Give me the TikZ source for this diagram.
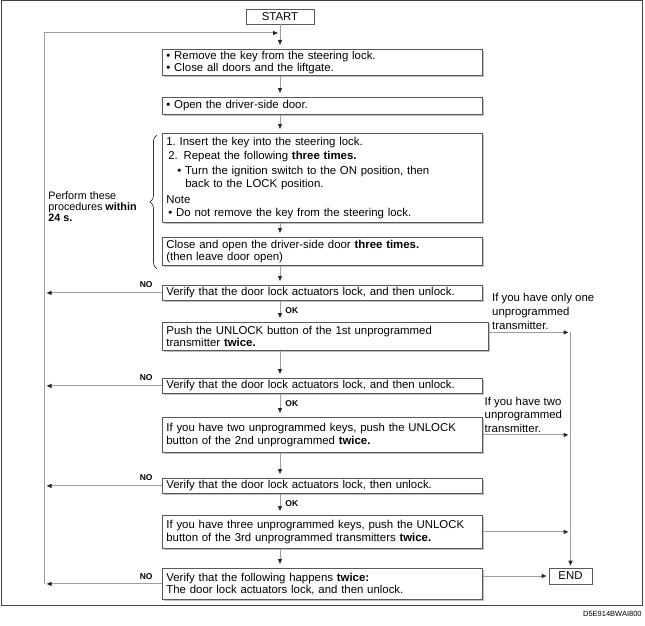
\documentclass[tikz,border=0pt]{standalone}
\usepackage{fontspec}
\setmainfont{Liberation Sans}
\usetikzlibrary{arrows.meta,shadows,decorations.pathreplacing}

\begin{document}
\begin{tikzpicture}[x=1pt,y=-1pt,line width=0.8pt,
  >={Triangle[length=5pt,width=4pt,color=black!85]},
  box/.style={draw=black!65, fill=white, anchor=north west, text width=312pt,
    inner xsep=4pt, inner ysep=1pt, align=left,
    drop shadow={shadow xshift=1.2pt,shadow yshift=-1.2pt,fill=black!25,opacity=1},
    font=\fontsize{11.4}{12.5}\selectfont},
  term/.style={draw=black!65, fill=white, inner sep=0pt, font=\fontsize{11.4}{12.5}\selectfont},
  flow/.style={draw=black!38, line width=1pt, ->, shorten >=4pt},
  tag/.style={inner sep=0pt, font=\fontsize{8.5}{9}\selectfont\bfseries},
  hint/.style={inner sep=0pt, align=left, font=\fontsize{11.4}{14}\selectfont}]
  \useasboundingbox (0,0) rectangle (645,626);
  \draw[black!75, line width=1pt] (1,1) rectangle (642,605);
  % Kasten
  \node[term, minimum width=68, minimum height=15] (start) at (280,16.5) {START};
  \node[box, minimum height=26] (b1) at (162,49)
    {\textbullet\ Remove the key from the steering lock.\\\textbullet\ Close all doors and the liftgate.};
  \node[box, minimum height=17] (b2) at (162,97) {\textbullet\ Open the driver-side door.};
  \node[box, minimum height=89] (b3) at (162,133)
    {1.\ Insert the key into the steering lock.\\[1.5pt]
     \hspace*{2pt}2. Repeat the following \textbf{three times.}\\[3pt]
     \hspace*{11pt}\textbullet\ Turn the ignition switch to the ON position, then\\
     \hspace*{19pt}back to the LOCK position.\\[4pt]
     Note\\
     \hspace*{2pt}\textbullet\ Do not remove the key from the steering lock.};
  \node[box, minimum height=28] (b4) at (162,237)
    {Close and open the driver-side door \textbf{three times.}\\(then leave door open)};
  \node[box, minimum height=15] (v1) at (162,285) {Verify that the door lock actuators lock, and then unlock.};
  \node[box, minimum height=28, text width=318pt] (p1) at (162,322)
    {Push the UNLOCK button of the 1st unprogrammed\\transmitter \textbf{twice.}};
  \node[box, minimum height=15] (v2) at (162,378) {Verify that the door lock actuators lock, and then unlock.};
  \node[box, minimum height=35] (p2) at (162,417)
    {If you have two unprogrammed keys, push the UNLOCK\\button of the 2nd unprogrammed \textbf{twice.}};
  \node[box, minimum height=15] (v3) at (162,478) {Verify that the door lock actuators lock, then unlock.};
  \node[box, minimum height=33] (p3) at (162,515)
    {If you have three unprogrammed keys, push the UNLOCK\\button of the 3rd unprogrammed transmitters \textbf{twice.}};
  \node[box, minimum height=31] (v4) at (162,568)
    {Verify that the following happens \textbf{twice:}\\The door lock actuators lock, and then unlock.};
  \node[term, minimum width=43, minimum height=16] (end) at (570.5,576) {END};
  % Hauptlinie
  \coordinate (back) at (start.south |- 0,33);
  \coordinate (ltop) at (44,33);
  \draw[flow] (start.south) -- (start.south |- b1.north);
  \foreach \a/\b in {b1/b2,b2/b3,b3/b4,b4/v1,v1/p1,p1/v2,v2/p2,p2/v3,v3/p3,p3/v4}
    \draw[flow] (start.south |- \a.south) -- (start.south |- \b.north);
  \foreach \v in {v1,v2,v3}{
    \draw[flow, shorten >=2.5pt] (\v.west) -- (\v.west -| ltop);
    \node[tag, anchor=east] at ([xshift=-9pt,yshift=8pt]\v.west) {NO};
    \node[tag, anchor=west] at ([xshift=5pt,yshift=-10pt]start.south |- \v.south) {OK};
  }
  \draw[flow, shorten >=2.5pt] (v4.west) -- (v4.west -| ltop);
  \node[tag, anchor=east] at ([xshift=-9pt,yshift=7pt]v4.west) {NO};
  \draw[flow, shorten >=2pt] (v4.west -| ltop) -- (ltop) -- (back);
  % rechte Seite
  \draw[flow, shorten >=2pt] ([yshift=4pt]p1.east) -- ([yshift=4pt]p1.east -| end.north);
  \draw[flow, shorten >=2pt] ([yshift=4pt]p1.east -| end.north) -- (end.north);
  \draw[flow, shorten >=2pt] (p2.east) -- (p2.east -| end.north);
  \draw[flow, shorten >=2pt] (p3.east) -- (p3.east -| end.north);
  \draw[flow, shorten >=2pt] (v4.east |- end.west) -- (end.west);
  \node[hint, anchor=south west] (h1) at ([xshift=3pt,yshift=6pt]p1.east)
    {If you have only one\\unprogrammed\\transmitter.};
  \node[hint, anchor=south west, font=\fontsize{11.4}{13.5}\selectfont] (h2) at ([xshift=1.5pt,yshift=2pt]p2.east)
    {If you have two\\unprogrammed\\transmitter.};
  % Klammer
  \draw[black!80, line width=0.7pt, decorate, decoration={brace,amplitude=7pt}]
    ([xshift=-5pt,yshift=-3pt]b4.south west) -- ([xshift=-5pt,yshift=-2pt]b3.north west);
  \node[hint, anchor=west, font=\fontsize{10.8}{11}\selectfont] (within) at (48,207)
    {Perform these\\procedures \textbf{within}\\\textbf{24 s.}};
  \node[inner sep=0pt, anchor=east, font=\fontsize{7.5}{8}\selectfont] (code) at (642,614) {D5E914BWAI800};
\end{tikzpicture}
\end{document}
